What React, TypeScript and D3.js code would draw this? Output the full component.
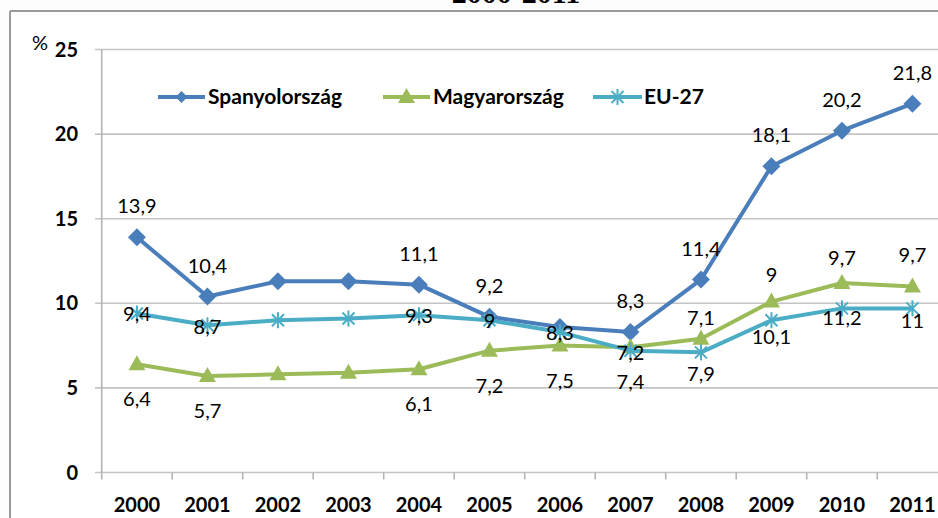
import React from "react";
import * as d3 from "d3";

const years = ["2000","2001","2002","2003","2004","2005","2006","2007","2008","2009","2010","2011"];
const spain = [13.9, 10.4, 11.3, 11.3, 11.1, 9.2, 8.6, 8.3, 11.4, 18.1, 20.2, 21.8];
const hungary = [6.4, 5.7, 5.8, 5.9, 6.1, 7.2, 7.5, 7.4, 7.9, 10.1, 11.2, 11.0];
const eu = [9.4, 8.7, 9.0, 9.1, 9.3, 9.0, 8.3, 7.2, 7.1, 9.0, 9.7, 9.7];
const spainLabels = ["13,9","10,4",null,null,"11,1","9,2",null,"8,3","11,4","18,1","20,2","21,8"];
const hungaryLabels = ["6,4","5,7",null,null,"6,1","7,2","7,5","7,4","7,9","10,1","11,2","11"];
const euLabels = ["9,4","8,7",null,null,"9,3","9","8,3","7,2","7,1","9","9,7","9,7"];
const euLabelDy = [1, 2, 0, 0, 1, 1, 1, 2, -34, -45, -50, -53];
const yTicks = [0, 5, 10, 15, 20, 25];
const seriesNames = ["Spanyolország", "Magyarország", "EU-27"];
const title = "2000-2011";

const FONT = "Lato, 'Open Sans', sans-serif";
const C_SPAIN = "#4A7EBB";
const C_HUN = "#9BBB59";
const C_EU = "#4BACC6";

const W = 938, H = 518;
const x = d3.scaleBand().domain(years).range([101.7, 947.7]);
const y = d3.scaleLinear().domain([0, 25]).range([472.5, 49.5]);
const cx = (yr: string) => (x(yr) as number) + x.bandwidth() / 2;

const lineGen = d3.line<number>().x((_, i) => cx(years[i])).y((d) => y(d));

function Diamond({ px, py, r = 9, color }: any) {
  return <path d={`M${px},${py - r}L${px + r},${py}L${px},${py + r}L${px - r},${py}Z`} fill={color} />;
}
function Triangle({ px, py, color }: any) {
  return <path d={`M${px},${py - 9}L${px + 8.5},${py + 6}L${px - 8.5},${py + 6}Z`} fill={color} />;
}
function Star({ px, py, color }: any) {
  const r = 8;
  const d = r * 0.75;
  return (
    <g stroke={color} strokeWidth={2}>
      <line x1={px} y1={py - r} x2={px} y2={py + r} />
      <line x1={px - d} y1={py - d} x2={px + d} y2={py + d} />
      <line x1={px - d} y1={py + d} x2={px + d} y2={py - d} />
    </g>
  );
}

export default function App() {
  const legendItems = [
    { name: seriesNames[0], x0: 158, x1: 205, tx: 208, color: C_SPAIN, M: Diamond, r: 6 },
    { name: seriesNames[1], x0: 383, x1: 430, tx: 433, color: C_HUN, M: Triangle },
    { name: seriesNames[2], x0: 593, x1: 642, tx: 644, color: C_EU, M: Star },
  ];
  return (
    <svg width={W} height={H} style={{ position: "absolute", left: 0, top: 0, background: "#fdfdfd" }} fontFamily={FONT}>
      <rect x={0} y={0} width={W} height={H} fill="#fdfdfd" />
      <text x={516} y={3} textAnchor="middle" fontFamily="'Liberation Serif', serif" fontWeight="bold" fontSize={30}>{title}</text>
      {/* frame */}
      <line x1={10} y1={11} x2={W} y2={11} stroke="#9a9a9a" strokeWidth={2} />
      <line x1={10} y1={11} x2={10} y2={H} stroke="#9a9a9a" strokeWidth={2} />
      <rect x={11} y={12} width={W} height={H} fill="#ffffff" />
      {/* grid */}
      {yTicks.map((t) => (
        <g key={t}>
          <line x1={95} x2={947.7} y1={y(t)} y2={y(t)} stroke="#c4c4c4" strokeWidth={1.6} />
          <text x={78} y={y(t)} dy="0.35em" textAnchor="end" fontWeight="bold" fontSize={20}>{t}</text>
        </g>
      ))}
      <text x={32} y={50} fontSize={20}>%</text>
      <line x1={101.7} x2={101.7} y1={y(25)} y2={y(0)} stroke="#b4b4b4" strokeWidth={1.6} />
      {years.map((yr) => (
        <g key={yr}>
          <line x1={x(yr) as number} x2={x(yr) as number} y1={y(0)} y2={y(0) + 7} stroke="#b4b4b4" strokeWidth={1.6} />
          <text x={cx(yr)} y={512} textAnchor="middle" fontWeight="bold" fontSize={20}>{yr}</text>
        </g>
      ))}
      {/* lines */}
      <path d={lineGen(spain) as string} fill="none" stroke={C_SPAIN} strokeWidth={4} strokeLinejoin="round" />
      {spain.map((v, i) => <Diamond key={i} px={cx(years[i])} py={y(v)} color={C_SPAIN} />)}
      <path d={lineGen(hungary) as string} fill="none" stroke={C_HUN} strokeWidth={4} strokeLinejoin="round" />
      {hungary.map((v, i) => <Triangle key={i} px={cx(years[i])} py={y(v)} color={C_HUN} />)}
      <path d={lineGen(eu) as string} fill="none" stroke={C_EU} strokeWidth={4} strokeLinejoin="round" />
      {eu.map((v, i) => <Star key={i} px={cx(years[i])} py={y(v)} color={C_EU} />)}
      {/* labels */}
      <g fontSize={20} fill="#000">
        {spain.map((v, i) => spainLabels[i] && (
          <text key={"s" + i} x={cx(years[i])} y={y(v) - 31} dy="0.35em" textAnchor="middle">{spainLabels[i]}</text>
        ))}
        {hungary.map((v, i) => hungaryLabels[i] && (
          <text key={"h" + i} x={cx(years[i])} y={y(v) + 35} dy="0.35em" textAnchor="middle">{hungaryLabels[i]}</text>
        ))}
        {eu.map((v, i) => euLabels[i] && (
          <text key={"e" + i} x={cx(years[i])} y={y(v) + euLabelDy[i]} dy="0.35em" textAnchor="middle">{euLabels[i]}</text>
        ))}
      </g>
      {/* legend */}
      {legendItems.map((it) => (
        <g key={it.name}>
          <line x1={it.x0} x2={it.x1} y1={97} y2={97} stroke={it.color} strokeWidth={4} />
          <it.M px={(it.x0 + it.x1) / 2} py={97} r={it.r} color={it.color} />
          <text x={it.tx} y={97} dy="0.35em" fontSize={21} fontWeight="bold">{it.name}</text>
        </g>
      ))}
    </svg>
  );
}
